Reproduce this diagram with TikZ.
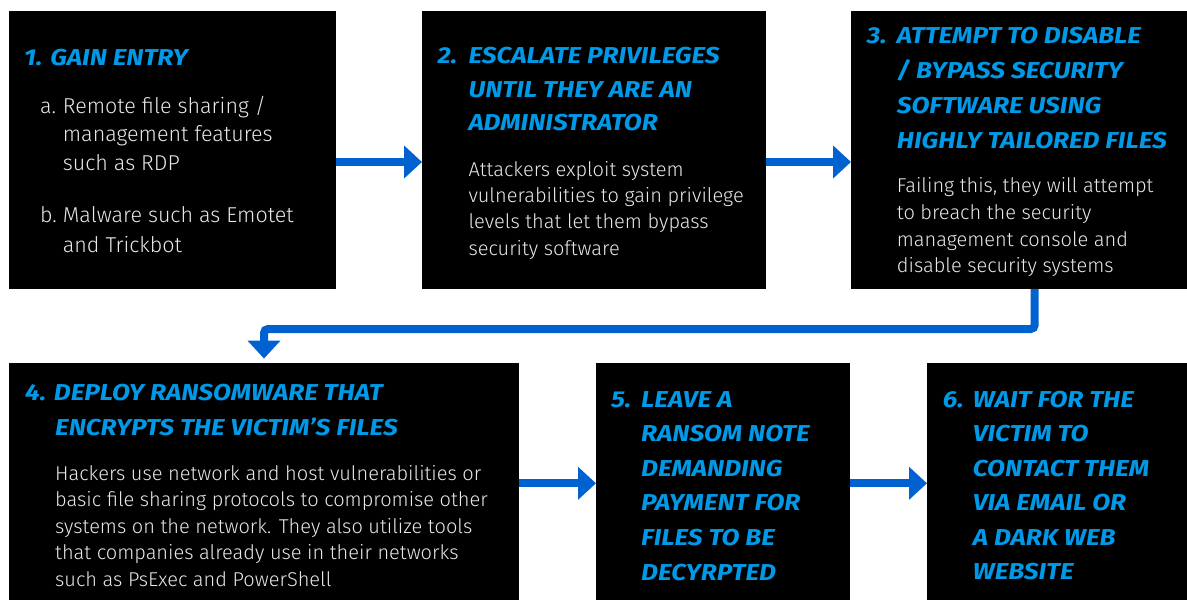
\documentclass[tikz,border=0pt]{standalone}
\usepackage{fontspec}
\usetikzlibrary{arrows.meta}
\newfontfamily\bodyfont{Fira Sans Light}
\newfontfamily\titlefont{Fira Sans}[FakeStretch=1.14]
\definecolor{titleblue}{RGB}{0,153,232}
\definecolor{arrowblue}{RGB}{0,98,208}
\definecolor{bodygray}{RGB}{232,232,232}
\begin{document}
\begin{tikzpicture}[x=1pt,y=-1pt,
  box/.style={fill=black, draw=none, inner sep=0pt, outer sep=0pt, anchor=north west},
  ttl/.style={anchor=base west, inner sep=0pt, text=titleblue, font=\titlefont\bfseries\itshape\fontsize{23}{23}\selectfont},
  bod/.style={anchor=base west, inner sep=0pt, text=bodygray, font=\bodyfont\fontsize{20}{20}\selectfont},
  bodl/.style={bod, font=\bodyfont\fontsize{21.5}{21.5}\selectfont},
  flow/.style={draw=arrowblue, line width=8pt, -{Triangle[width=32pt,length=18pt]}}
]
\useasboundingbox (0,0) rectangle (1187,600);
% boxes
\node[box, minimum width=327pt, minimum height=278pt] (b1) at (9,11) {};
\node[box, minimum width=344pt, minimum height=278pt] (b2) at (422,11) {};
\node[box, minimum width=336pt, minimum height=278pt] (b3) at (851,11) {};
\node[box, minimum width=510pt, minimum height=237pt] (b4) at (9,363) {};
\node[box, minimum width=254pt, minimum height=237pt] (b5) at (596,363) {};
\node[box, minimum width=260pt, minimum height=237pt] (b6) at (927,363) {};
% box 1
\node[ttl] (t1) at (24,65.7) {1. GAIN ENTRY};
\node[bodl] (t1a) at (40,113.3) {a.};
\foreach \t [count=\i] in {{Remote file sharing /},{management features},{such as RDP}}
  \node[bodl] (t1a\i) at (62.7,{113.3+(\i-1)*28.5}) {\t};
\node[bodl] (t1b) at (40,222.7) {b.};
\foreach \t [count=\i] in {{Malware such as Emotet},{and Trickbot}}
  \node[bodl] (t1b\i) at (62.7,{222.7+(\i-1)*29.6}) {\t};
% box 2
\node[ttl] (t2n) at (437.3,63.3) {2.};
\foreach \t [count=\i] in {{ESCALATE PRIVILEGES},{UNTIL THEY ARE AN},{ADMINISTRATOR}}
  \node[ttl] (t2\i) at (468.3,{63.3+(\i-1)*33.7}) {\t};
\foreach \t [count=\i] in {{Attackers exploit system},{vulnerabilities to gain privilege},{levels that let them bypass},{security software}}
  \node[bod] (d2\i) at (468.3,{176+(\i-1)*26.4}) {\t};
% box 3
\node[ttl] (t3n) at (866.7,43.3) {3.};
\foreach \t [count=\i] in {{ATTEMPT TO DISABLE},{/ BYPASS SECURITY},{SOFTWARE USING},{HIGHLY TAILORED FILES}}
  \node[ttl] (t3\i) at (896.7,{43.3+(\i-1)*35}) {\t};
\foreach \t [count=\i] in {{Failing this, they will attempt},{to breach the security},{management console and},{disable security systems}}
  \node[bod] (d3\i) at (896.7,{192.7+(\i-1)*26.7}) {\t};
% box 4
\node[ttl] (t41) at (25,400.7) {4. DEPLOY RANSOMWARE THAT};
\node[ttl] (t42) at (55,435) {ENCRYPTS THE VICTIM’S FILES};
\foreach \t [count=\i] in {{Hackers use network and host vulnerabilities or},{basic file sharing protocols to compromise other},{systems on the network. They also utilize tools},{that companies already use in their networks},{such as PsExec and PowerShell}}
  \node[bod] (d4\i) at (55,{480+(\i-1)*26.5}) {\t};
% box 5
\node[ttl] (t5n) at (611,407) {5.};
\foreach \t [count=\i] in {{LEAVE A},{RANSOM NOTE},{DEMANDING},{PAYMENT FOR},{FILES TO BE},{DECYRPTED}}
  \node[ttl] (t5\i) at (641,{407+(\i-1)*34.65}) {\t};
% box 6
\node[ttl] (t6n) at (942.7,407) {6.};
\foreach \t [count=\i] in {{WAIT FOR THE},{VICTIM TO},{CONTACT THEM},{VIA EMAIL OR},{A DARK WEB},{WEBSITE}}
  \node[ttl] (t6\i) at (972.7,{407+(\i-1)*34.5}) {\t};
% connectors
\coordinate (r1) at (0,162);
\coordinate (r2) at (0,483.3);
\coordinate (ex) at (1034.7,329);
\draw[flow] (b1.east |- r1) -- (b2.west |- r1);
\draw[flow] (b2.east |- r1) -- (b3.west |- r1);
\draw[flow] (b4.east |- r2) -- (b5.west |- r2);
\draw[flow] (b5.east |- r2) -- (b6.west |- r2);
\draw[flow, rounded corners=4pt, shorten >=4.4pt] (b3.south -| ex) |- (b4.north |- ex) -- (b4.north);
\end{tikzpicture}
\end{document}
